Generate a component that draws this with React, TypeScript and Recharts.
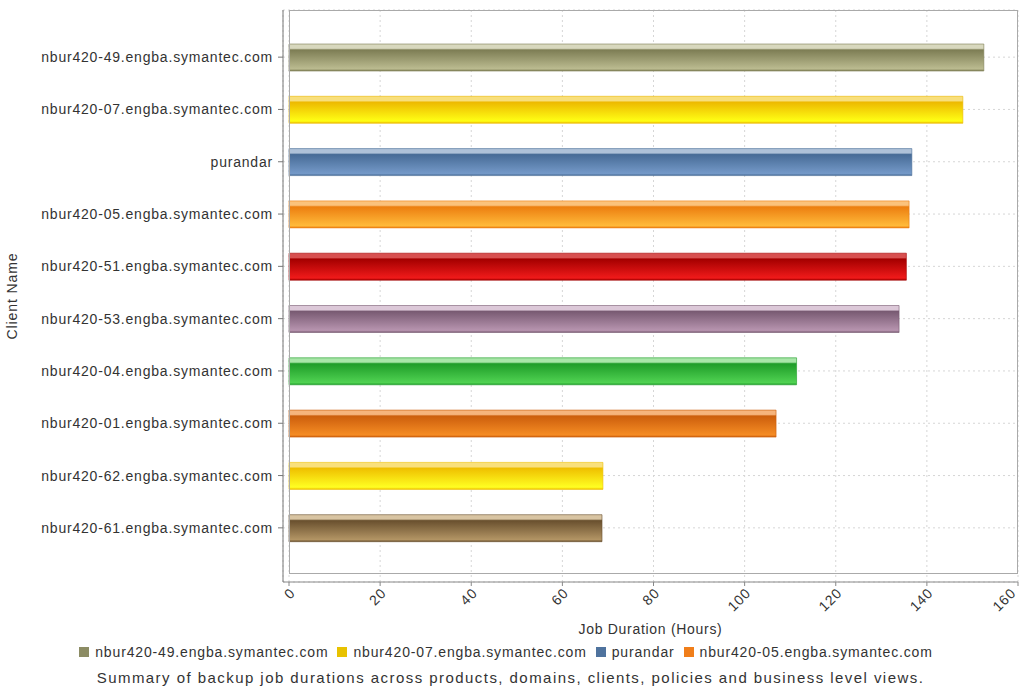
import { BarChart, Bar, XAxis, YAxis, CartesianGrid, Cell } from 'recharts';

const clients = [
  'nbur420-49.engba.symantec.com',
  'nbur420-07.engba.symantec.com',
  'purandar',
  'nbur420-05.engba.symantec.com',
  'nbur420-51.engba.symantec.com',
  'nbur420-53.engba.symantec.com',
  'nbur420-04.engba.symantec.com',
  'nbur420-01.engba.symantec.com',
  'nbur420-62.engba.symantec.com',
  'nbur420-61.engba.symantec.com',
];
const hours = [152.5, 147.9, 136.7, 136.1, 135.5, 133.9, 111.4, 106.9, 68.9, 68.7];
const xTicks = [0, 20, 40, 60, 80, 100, 120, 140, 160];
const legendClients = clients.slice(0, 4);

// highlight strip, dark top of body, light bottom of body
const shades = [
  ['#d8d8be', '#7d7d54', '#bbbb90'],
  ['#f8df7c', '#edb900', '#ffff14'],
  ['#aec1d8', '#476b96', '#7499c8'],
  ['#fbc27c', '#ec7e10', '#ffba3a'],
  ['#d85050', '#a40000', '#f01a1a'],
  ['#dcc8d8', '#785a72', '#b794af'],
  ['#a8e6a8', '#1e9c28', '#50d252'],
  ['#f6b47c', '#cc5e0c', '#f58c24'],
  ['#f9e07c', '#efbf00', '#ffff22'],
  ['#d8c4a2', '#69502e', '#b29464'],
];
const legendColors = ['#8c8c64', '#e8c200', '#4f739e', '#f07e1a'];

const data = clients.map((client, i) => ({ client, hours: hours[i] }));

const FONT = '"Liberation Sans", Arial, sans-serif';
const textStyle = { fontFamily: FONT, fontSize: 14, letterSpacing: 0.8, fill: '#333' };

export default function App() {
  return (
    <div style={{ position: 'absolute', left: 0, top: 0, width: 1021, height: 693, background: '#fff', fontFamily: FONT }}>
      <BarChart
        width={1021}
        height={693}
        data={data}
        layout="vertical"
        margin={{ top: 10, right: 3, left: 0, bottom: 51 }}
      >
        <defs>
          {shades.map((s, i) => (
            <linearGradient key={i} id={`g${i}`} x1="0" y1="0" x2="0" y2="1">
              <stop offset="0%" stopColor={s[0]} />
              <stop offset="16%" stopColor={s[0]} />
              <stop offset="22%" stopColor={s[1]} />
              <stop offset="92%" stopColor={s[2]} />
              <stop offset="100%" stopColor={s[1]} />
            </linearGradient>
          ))}
        </defs>
        <CartesianGrid strokeDasharray="2 3" stroke="#d6d6d6" />
        <XAxis
          type="number"
          domain={[0, 160]}
          ticks={xTicks}
          padding={{ left: 6 }}
          height={60}
          stroke="#888"
          tickSize={4}
          tickMargin={1}
          angle={-45}
          textAnchor="end"
          tick={textStyle}
          label={{
            value: 'Job Duration (Hours)',
            position: 'insideBottom',
            offset: 8,
            style: { fontFamily: FONT, fontSize: 14, letterSpacing: 0.7, fill: '#333' },
          }}
        />
        <YAxis
          type="category"
          dataKey="client"
          width={283}
          padding={{ top: 21, bottom: 28 }}
          stroke="#777"
          tickSize={5}
          tickMargin={5}
          tick={textStyle}
          label={{
            value: 'Client Name',
            angle: -90,
            position: 'insideLeft',
            offset: 12,
            style: { fontFamily: FONT, fontSize: 14, letterSpacing: 0.9, fill: '#333', textAnchor: 'middle' },
          }}
        />
        <Bar dataKey="hours" barSize={27} isAnimationActive={false}>
          {data.map((d, i) => (
            <Cell key={d.client} fill={`url(#g${i})`} stroke={shades[i][1]} strokeOpacity={0.6} />
          ))}
        </Bar>
      </BarChart>
      <div
        style={{
          position: 'absolute',
          left: 289,
          top: 10,
          width: 729,
          height: 564,
          border: '1px solid #aaa',
          boxSizing: 'border-box',
          pointerEvents: 'none',
        }}
      />
      <div
        style={{
          position: 'absolute',
          left: 0,
          top: 644,
          width: 1021,
          display: 'flex',
          justifyContent: 'center',
          alignItems: 'center',
          fontSize: 14,
          letterSpacing: 0.85,
          color: '#333',
        }}
      >
        {legendClients.map((c, i) => (
          <span key={c} style={{ display: 'flex', alignItems: 'center', marginRight: 9 }}>
            <span style={{ width: 10, height: 10, background: legendColors[i], marginRight: 6 }} />
            {c}
          </span>
        ))}
      </div>
      <div
        style={{
          position: 'absolute',
          left: 0,
          top: 669,
          width: 1021,
          textAlign: 'center',
          fontSize: 15,
          letterSpacing: 1.45,
          color: '#333',
        }}
      >
        Summary of backup job durations across products, domains, clients, policies and business level views.
      </div>
    </div>
  );
}
